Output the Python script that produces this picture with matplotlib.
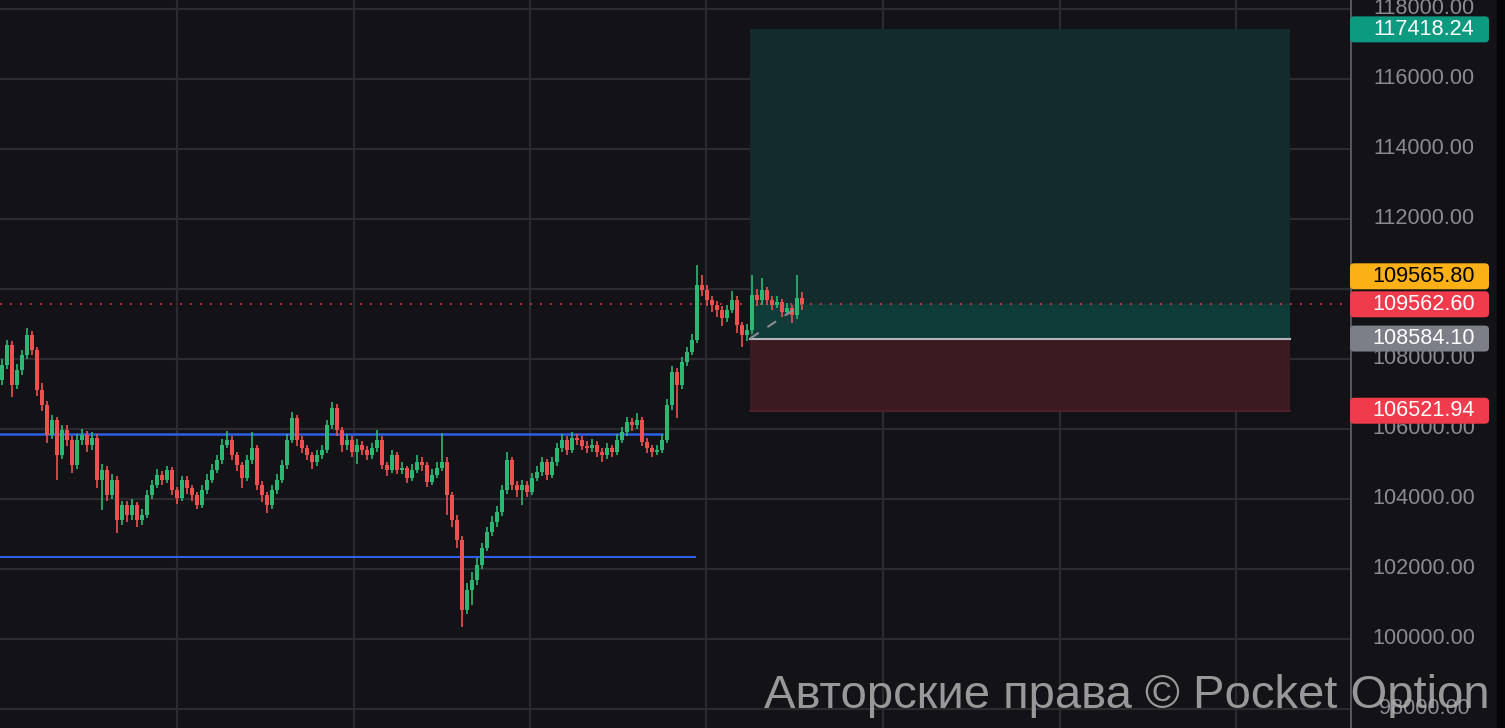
import numpy as np
import matplotlib
matplotlib.use('Agg')
import matplotlib.pyplot as plt
from matplotlib.patches import FancyBboxPatch, Rectangle

# candle closes (price), one per bar
closes = [107830, 108400, 107260, 107690, 108110, 108690, 108260, 107110, 106690, 105830,
          106260, 105260, 105970, 105690, 104970, 105690, 105830, 105540, 105740, 104540,
          104830, 104110, 104540, 103400, 103830, 103540, 103830, 103400, 103540, 104110,
          104400, 104690, 104540, 104830, 104260, 104030, 104540, 104310, 104110, 103830,
          104260, 104540, 104830, 105110, 105540, 105690, 105260, 104970, 104600, 105110,
          105460, 104400, 104110, 103830, 104260, 104540, 104970, 105690, 106310, 105690,
          105460, 105260, 105060, 105260, 105400, 106110, 106600, 105970, 105540, 105690,
          105340, 105540, 105400, 105260, 105460, 105690, 104970, 104830, 105260, 104830,
          104890, 104600, 104830, 105060, 104970, 104490, 104690, 104890, 105060, 104110,
          103400, 102830, 100830, 101400, 101690, 102110, 102600, 103060, 103340, 103630,
          104260, 105110, 104400, 104260, 104400, 104200, 104600, 104770, 105060, 104690,
          105060, 105460, 105690, 105400, 105740, 105690, 105510, 105460, 105540, 105340,
          105260, 105460, 105340, 105690, 105910, 106200, 106110, 106260, 105630, 105460,
          105340, 105400, 105690, 106690, 107630, 107260, 107910, 108200, 108540, 110110,
          109970, 109690, 109540, 109400, 109170, 109400, 109690, 108970, 108690, 108830,
          109830, 109690, 109970, 109690, 109540, 109630, 109340, 109460, 109260, 109740,
          109562.6]
first_open = 107400

highs = [108000, 108550, 108500, 107850, 108250, 108890, 108800, 108350, 107300, 106800,
         106400, 106350, 106120, 106100, 105800, 105850, 106000, 105950, 105900, 105850,
         105000, 104950, 104700, 104650, 103950, 103950, 104000, 103900, 103700, 104250,
         104550, 104850, 104800, 104950, 104900, 104350, 104650, 104650, 104400, 104200,
         104400, 104700, 105000, 105250, 105700, 105950, 105800, 105350, 105050, 105250,
         105910, 105550, 104500, 104200, 104400, 104700, 105100, 105850, 106490, 106400,
         105800, 105550, 105350, 105400, 105550, 106250, 106770, 106700, 106050, 105850,
         105800, 105700, 105650, 105500, 105600, 105970, 105800, 105050, 105400, 105350,
         105050, 104950, 105000, 105250, 105200, 105050, 104850, 105050, 105890, 105200,
         104200, 103550, 102950, 101600, 101900, 102300, 102750, 103200, 103500, 103800,
         104400, 105340, 105200, 104500, 104550, 104500, 104750, 104950, 105200, 105150,
         105200, 105600, 105850, 105800, 105900, 105850, 105800, 105650, 105700, 105650,
         105450, 105600, 105550, 105850, 106050, 106350, 106300, 106450, 106350, 105750,
         105550, 105550, 105850, 106850, 107800, 107750, 108050, 108350, 108700, 110690,
         110400, 110100, 109800, 109650, 109500, 109550, 109950, 109800, 109050, 109000,
         110400, 110000, 110300, 110050, 109800, 109800, 109700, 109600, 109550, 110400,
         109900]

lows = [107250, 107700, 106910, 107150, 107550, 108000, 108100, 106950, 106500, 105600,
        105700, 104540, 105150, 105500, 104740, 104850, 105550, 105350, 105400, 104300,
        103690, 103950, 104000, 103030, 103250, 103350, 103400, 103200, 103250, 103450,
        104000, 104300, 104400, 104450, 104100, 103850, 103950, 104150, 103950, 103700,
        103750, 104150, 104450, 104750, 105000, 105450, 105100, 104800, 104300, 104500,
        105000, 104250, 103900, 103600, 103700, 104150, 104450, 104850, 105600, 105500,
        105300, 105100, 104850, 104950, 105150, 105300, 106000, 105800, 105350, 105400,
        105200, 105000, 105250, 105100, 105150, 105350, 104850, 104650, 104750, 104700,
        104700, 104450, 104500, 104750, 104800, 104350, 104400, 104600, 104800, 103550,
        103200, 102600, 100340, 100700, 100970, 101550, 102000, 102500, 102950, 103200,
        103500, 104150, 104250, 104050, 103830, 104050, 104100, 104500, 104650, 104550,
        104600, 104950, 105350, 105250, 105300, 105550, 105400, 105300, 105350, 105200,
        105050, 105150, 105200, 105250, 105600, 105800, 105950, 106000, 105500, 105300,
        105200, 105250, 105300, 105600, 106550, 106300, 107150, 107800, 108100, 108450,
        109800, 109500, 109350, 109200, 108950, 109050, 109300, 108750, 108340, 108500,
        108700, 109500, 109550, 109550, 109400, 109450, 109200, 109250, 109030, 109150,
        109400]

# horizontal levels
level_top = 105860
level_bottom = 102340
current_price = 109562.60
ask_price = 109565.80
take_profit = 117418.24
entry_price = 108584.10
stop_loss = 106521.94

price_ticks = [98000, 100000, 102000, 104000, 106000, 108000,
               110000, 112000, 114000, 116000, 118000]

bg = '#121217'
grid_c = '#2a2a2f'
up_c = '#2cb872'
down_c = '#ee5050'

opens = [first_open] + closes[:-1]
n = len(closes)
idx = np.arange(n)

W, H = 1505, 728
fig = plt.figure(figsize=(W / 100, H / 100), dpi=100)
fig.patch.set_facecolor(bg)

px_per_bar = 5.0
ax = fig.add_axes([0, 0, 1350 / W, 1])
ax.set_facecolor(bg)
ax.set_xlim(-0.4, -0.4 + 1350 / px_per_bar)
ymin, ymax = 97457, 118257
ax.set_ylim(ymin, ymax)
for s in ax.spines.values():
    s.set_visible(False)
ax.set_xticks([])
ax.set_yticks([])

# grid
for p in price_ticks:
    ax.axhline(p, color=grid_c, lw=1.6, zorder=0)
for gx in np.arange(35, 270, 35.3):
    ax.axvline(gx, color=grid_c, lw=1.6, zorder=0)

# position box
x0, x1 = 149.6, 257.6
ax.add_patch(Rectangle((x0, entry_price), x1 - x0, take_profit - entry_price,
                       facecolor='#132b2c', edgecolor='none', zorder=1))
ax.add_patch(Rectangle((x0, entry_price), x1 - x0, current_price - entry_price,
                       facecolor='#0f3c39', edgecolor='none', zorder=1))
ax.add_patch(Rectangle((x0, stop_loss), x1 - x0, entry_price - stop_loss,
                       facecolor='#3c1a22', edgecolor='none', zorder=1))
ax.plot([x0, x1], [stop_loss, stop_loss], color='#552029', lw=1.2, zorder=1)
ax.plot([x0, x1], [entry_price, entry_price], color='#b4b4bc', lw=1.5, zorder=2)

# support / resistance levels
ax.plot([-1, 132], [level_top, level_top], color='#2f5ee8', lw=1.8, zorder=2)
ax.plot([-1, 138.6], [level_bottom, level_bottom], color='#2f5ee8', lw=1.5, zorder=2)

# candles
cols = [up_c if c >= o else down_c for o, c in zip(opens, closes)]
ax.vlines(idx, lows, highs, colors=cols, lw=1.2, zorder=3)
body_lo = np.minimum(opens, closes)
body_h = np.abs(np.array(closes) - np.array(opens))
ax.bar(idx, np.maximum(body_h, 40), bottom=body_lo, width=0.75, color=cols,
       edgecolor='none', zorder=4)

# current price dotted line and trade link
ax.axhline(current_price, color='#f23645', lw=1.2, ls=(0, (1, 5)), zorder=2)
ax.plot([x0, n - 1], [entry_price, current_price], color='#8c8c94', lw=1.5,
        ls=(0, (5, 5)), zorder=5)

# price scale
ax2 = fig.add_axes([1350 / W, 0, 155 / W, 1])
ax2.set_facecolor(bg)
ax2.set_xlim(0, 155)
ax2.set_ylim(ymin, ymax)
ax2.set_xticks([])
ax2.set_yticks([])
for s in ax2.spines.values():
    s.set_visible(False)
ax2.axvline(0.5, color='#55555c', lw=1.5)
ax2.axvspan(147, 155, color='#050507')

ppx = (ymax - ymin) / H
badge_h = 26 * ppx
ask_pos = current_price + 28 * ppx

# tick labels hidden behind the stacked current-price badges are not drawn
for p in price_ticks:
    if abs(p - current_price) < 16 * ppx or abs(p - ask_pos) < 16 * ppx:
        continue
    ax2.text(74, p, f'{p:.2f}', ha='center', va='center', color='#8b8b91',
             fontsize=15.6, family='Liberation Sans', zorder=1)


def badge(price, text, face, tcol='white'):
    ax2.add_patch(FancyBboxPatch((0, price - badge_h / 2), 139, badge_h,
                                 boxstyle='round,pad=0,rounding_size=4',
                                 mutation_aspect=ppx, facecolor=face,
                                 edgecolor='none', zorder=3))
    ax2.text(74, price, text, ha='center', va='center', color=tcol,
             fontsize=15.6, family='Liberation Sans', zorder=4)


badge(take_profit, f'{take_profit:.2f}', '#0c9a80')
badge(ask_pos, f'{ask_price:.2f}', '#fbb016', 'black')
badge(current_price, f'{current_price:.2f}', '#ef3b4b')
badge(entry_price, f'{entry_price:.2f}', '#7c7e88')
badge(stop_loss, f'{stop_loss:.2f}', '#ef3b4b')

# watermark
fig.text(1490 / W, 1 - 708 / H, 'Авторские права © Pocket Option',
         ha='right', va='baseline', color='#b0b0b0', alpha=0.85,
         fontsize=34, family='Liberation Sans', zorder=10)

fig.savefig('out.png', dpi=100, facecolor=bg)
